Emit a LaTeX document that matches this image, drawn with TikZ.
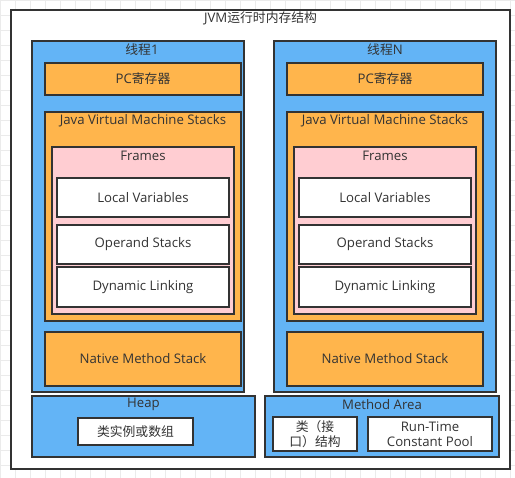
\documentclass[tikz,border=0pt]{standalone}
\usepackage{fontspec}
\setmainfont{Open Sans}
\newfontfamily\cjk{Noto Sans CJK SC}
\newcommand{\zh}[1]{{\cjk\fontsize{12.8}{14}\selectfont #1}}
\definecolor{lc}{HTML}{333333}
\definecolor{tc}{HTML}{333333}
\definecolor{bluef}{HTML}{63B4F6}
\definecolor{orangef}{HTML}{FFB54C}
\definecolor{pinkf}{HTML}{FFCDD2}
\definecolor{gridc}{HTML}{EBEBEB}
\begin{document}
\begin{tikzpicture}[x=1pt,y=-1pt,
  box/.style={draw=lc, line width=2pt, anchor=north west, inner sep=0pt, outer sep=0pt,
    text=tc, font=\fontsize{13.2}{15}\selectfont, align=center},
  toplbl/.style={anchor=center, yshift=-8.5pt, inner sep=0pt, text=tc, font=\fontsize{13.2}{15}\selectfont},
  bluebox/.style={box, fill=bluef},
  orbox/.style={box, fill=orangef},
  pkbox/.style={box, fill=pinkf},
  whbox/.style={box, fill=white}]
\useasboundingbox (0,0) rectangle (515,478);
\fill[white] (0,0) rectangle (515,478);
\foreach \gx in {0,15,...,510} \draw[gridc, line width=0.8pt] (\gx+0.5,0) -- (\gx+0.5,478);
\foreach \gy in {0,15,...,475} \draw[gridc, line width=0.8pt] (0,\gy+0.5) -- (515,\gy+0.5);

\node[whbox, minimum width=499, minimum height=459,
  label={[toplbl]north:JVM\zh{运行时内存结构}}] (jvm) at (11,10) {};

% thread 1
\node[bluebox, minimum width=212, minimum height=351,
  label={[toplbl, yshift=-0.5pt, xshift=4pt]north:\zh{线程}1}] (t1) at (32,41) {};
\node[orbox, minimum width=196, minimum height=32] (pc1) at (45,63) {PC\zh{寄存器}};
\node[orbox, minimum width=196, minimum height=209,
  label={[toplbl, yshift=-0.5pt]north:Java Virtual Machine Stacks}] (jvms1) at (45,112) {};
\node[pkbox, minimum width=182, minimum height=167,
  label={[toplbl]north:Frames}] (fr1) at (52,147) {};
\node[whbox, minimum width=172, minimum height=39] (lv1) at (57,178) {Local Variables};
\node[whbox, minimum width=172, minimum height=39] (os1) at (57,225) {Operand Stacks};
\node[whbox, minimum width=172, minimum height=40] (dl1) at (57,267) {Dynamic Linking};
\node[orbox, minimum width=196, minimum height=54] (nms1) at (45,332) {Native Method Stack};

% thread N
\node[bluebox, minimum width=222, minimum height=351,
  label={[toplbl, yshift=-0.5pt]north:\zh{线程}N}] (tN) at (274,41) {};
\node[orbox, minimum width=196, minimum height=32] (pcN) at (287,63) {PC\zh{寄存器}};
\node[orbox, minimum width=196, minimum height=209,
  label={[toplbl, yshift=-0.5pt]north:Java Virtual Machine Stacks}] (jvmsN) at (287,112) {};
\node[pkbox, minimum width=182, minimum height=167,
  label={[toplbl]north:Frames}] (frN) at (294,147) {};
\node[whbox, minimum width=172, minimum height=39] (lvN) at (299,178) {Local Variables};
\node[whbox, minimum width=172, minimum height=39] (osN) at (299,225) {Operand Stacks};
\node[whbox, minimum width=172, minimum height=40] (dlN) at (299,267) {Dynamic Linking};
\node[orbox, minimum width=196, minimum height=54] (nmsN) at (287,332) {Native Method Stack};

% heap
\node[bluebox, minimum width=223, minimum height=61,
  label={[toplbl]north:Heap}] (heap) at (32,396) {};
\node[whbox, minimum width=115, minimum height=27] (inst) at (78,418) {\zh{类实例或数组}};

% method area
\node[bluebox, minimum width=234, minimum height=61,
  label={[toplbl]north:Method Area}] (ma) at (265,396) {};
\node[whbox, minimum width=84, minimum height=34, font=\fontsize{13.2}{15}\selectfont] (cls) at (273,417) {\zh{类（接}\\\zh{口）结构}};
\node[whbox, minimum width=124, minimum height=34, font=\fontsize{13.2}{15}\selectfont] (rtcp) at (368,417) {Run-Time\\Constant Pool};
\end{tikzpicture}
\end{document}
